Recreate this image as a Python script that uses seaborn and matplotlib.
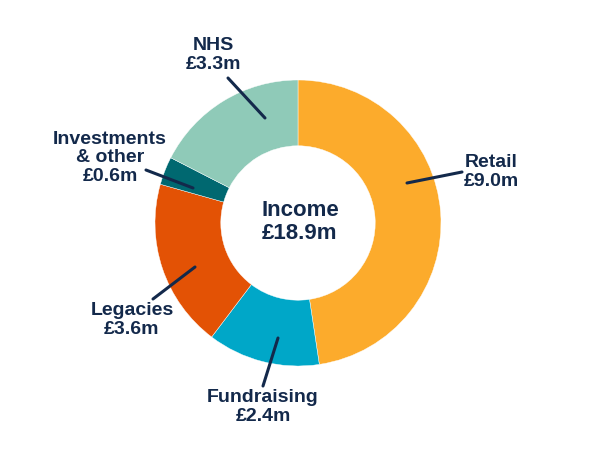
import matplotlib
matplotlib.use("Agg")
import matplotlib.pyplot as plt
import seaborn as sns

# Données : revenus (en millions de livres)
categories = ["Retail", "Fundraising", "Legacies", "Investments\n& other", "NHS"]
valeurs = [9.0, 2.4, 3.6, 0.6, 3.3]
couleurs = ["#FCAB2C", "#00A7C8", "#E35205", "#006870", "#8FCAB8"]
total_label = "Income\n£18.9m"

# Positions des étiquettes (pixels, y vers le haut) et des traits de rappel
label_pos = [(491, 278), (263, 43), (132, 130), (110, 292), (213, 395)]
leader_start = [(407, 267), (278, 112), (195, 183), (193, 262), (265, 332)]
leader_end = [(462, 278), (263, 64), (153, 151), (146, 280), (228, 372)]

navy = "#13294B"

sns.set_theme(style="white")
plt.rcParams["font.family"] = ["Liberation Sans", "DejaVu Sans"]

fig = plt.figure(figsize=(6, 4.5), dpi=100)
ax = fig.add_axes([0, 0, 1, 1])

ax.pie(valeurs, colors=couleurs, startangle=90, counterclock=False,
       center=(298, 227), radius=143, frame=True,
       wedgeprops=dict(width=143 * 0.46, edgecolor="white", linewidth=0.3))
ax.set_xlim(0, 600)
ax.set_ylim(0, 450)
ax.set_aspect("equal")
ax.axis("off")

for cat, val, pos, a, b in zip(categories, valeurs, label_pos, leader_start, leader_end):
    ax.annotate("", xy=a, xytext=b,
                arrowprops=dict(arrowstyle="-", lw=2.2, color=navy,
                                shrinkA=0, shrinkB=0))
    ax.text(pos[0], pos[1], f"{cat}\n£{val:.1f}m", ha="center", va="center",
            fontsize=14, fontweight="bold", color=navy, linespacing=1.08)

ax.text(300, 228, total_label, ha="center", va="center", fontsize=16,
        fontweight="bold", color=navy, linespacing=1.12)

plt.savefig("out.png", dpi=100)
